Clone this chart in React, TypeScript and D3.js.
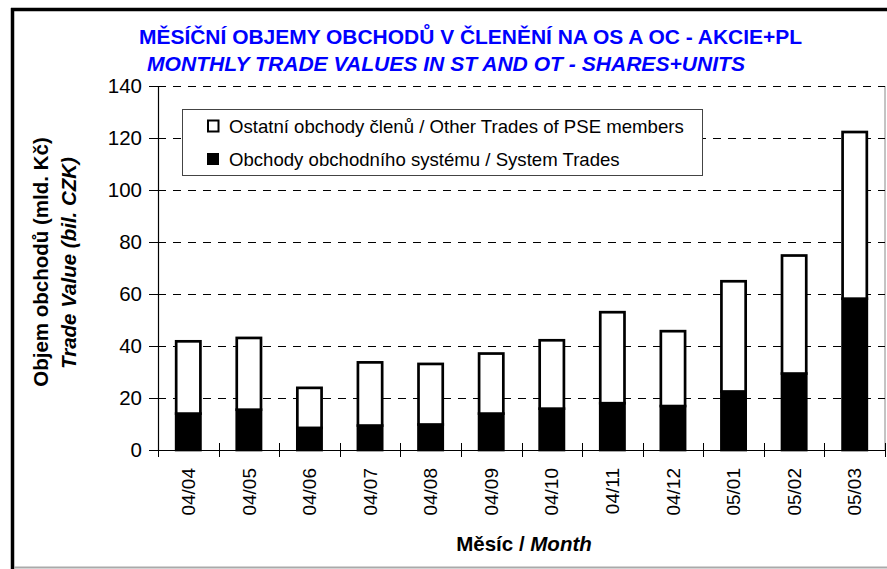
import * as d3 from "d3";

const months = ["04/04", "04/05", "04/06", "04/07", "04/08", "04/09", "04/10", "04/11", "04/12", "05/01", "05/02", "05/03"];
// black part: trades of the trading system
const systemTrades = [14.0, 15.5, 8.5, 9.4, 9.8, 14.0, 15.9, 18.0, 16.9, 22.5, 29.4, 58.2];
// white part: other trades of PSE members
const otherTrades = [27.8, 27.6, 15.4, 24.3, 23.3, 23.1, 26.3, 35.0, 28.8, 42.4, 45.4, 64.1];
const yTicks = [0, 20, 40, 60, 80, 100, 120, 140];

const FONT = "Arial, 'Liberation Sans', sans-serif";

export default function App() {
  const width = 887;
  const height = 569;
  const left = 158;
  const right = 885;
  const top = 86;
  const bottom = 450;

  const x = d3.scaleBand<string>().domain(months).range([left, right]).paddingInner(0.6).paddingOuter(0.3);
  const y = d3.scaleLinear().domain([0, 140]).range([bottom, top]);

  const rows = months.map((m, i) => ({ month: m, system: systemTrades[i], other: otherTrades[i] }));
  const stacked = d3.stack<{ month: string; system: number; other: number }>().keys(["system", "other"])(rows);

  const step = x.step();
  const boundaries = d3.range(months.length + 1).map((i) => left + i * step);

  return (
    <svg width={width} height={height} style={{ position: "absolute", left: 0, top: 0, display: "block", background: "#fff" }} fontFamily={FONT}>
      {/* frame */}
      <line x1={12.5} x2={12.5} y1={8} y2={569} stroke="#000" strokeWidth={3.5} />
      <line x1={11} x2={887} y1={9.5} y2={9.5} stroke="#000" strokeWidth={3.5} />
      <line x1={14} x2={887} y1={567.5} y2={567.5} stroke="#aaa" strokeWidth={2} />

      {/* titles */}
      <text x={139} y={44} fill="#0000ff" fontWeight="bold" fontSize={21} textLength={663} lengthAdjust="spacingAndGlyphs">
        MĚSÍČNÍ OBJEMY OBCHODŮ V ČLENĚNÍ NA OS A OC - AKCIE+PL
      </text>
      <text x={147} y={70.5} fill="#0000ff" fontWeight="bold" fontStyle="italic" fontSize={21} textLength={598} lengthAdjust="spacingAndGlyphs">
        MONTHLY TRADE VALUES IN ST AND OT - SHARES+UNITS
      </text>

      {/* plot border */}
      <line x1={right} x2={right} y1={top} y2={bottom} stroke="#888" strokeWidth={1} />

      {/* gridlines */}
      {yTicks.filter((t) => t > 0).map((t) => (
        <line key={t} x1={left} x2={right} y1={Math.round(y(t)) + 0.5} y2={Math.round(y(t)) + 0.5} stroke="#000" strokeWidth={1} strokeDasharray="8,7" />
      ))}

      {/* bars */}
      {stacked.map((layer) =>
        layer.map((d, i) => (
          <rect
            key={layer.key + i}
            x={x(months[i])}
            y={y(d[1])}
            width={x.bandwidth()}
            height={y(d[0]) - y(d[1])}
            fill={layer.key === "system" ? "#000" : "#fff"}
            stroke="#000"
            strokeWidth={2.7}
          />
        ))
      )}

      {/* axes */}
      <line x1={left + 0.5} x2={left + 0.5} y1={top} y2={bottom} stroke="#000" strokeWidth={1.2} />
      <line x1={left} x2={right} y1={bottom + 0.5} y2={bottom + 0.5} stroke="#000" strokeWidth={1.2} />
      {yTicks.map((t) => (
        <g key={t}>
          <line x1={149} x2={164} y1={Math.round(y(t)) + 0.5} y2={Math.round(y(t)) + 0.5} stroke="#000" strokeWidth={1} />
          <text x={142} y={y(t)} dy="0.36em" textAnchor="end" fontSize={20.5}>{t}</text>
        </g>
      ))}
      {boundaries.map((bx, i) => (
        <line key={i} x1={Math.round(bx) + 0.5} x2={Math.round(bx) + 0.5} y1={443} y2={457} stroke="#000" strokeWidth={1} />
      ))}
      {months.map((m) => (
        <text
          key={m}
          transform={`translate(${x(m)! + x.bandwidth() / 2},468) rotate(-90)`}
          dy="0.35em"
          textAnchor="end"
          fontSize={19}
        >
          {m}
        </text>
      ))}

      {/* axis titles */}
      <text x={524} y={551} textAnchor="middle" fontSize={20.5} fontWeight="bold">
        Měsíc / <tspan fontStyle="italic">Month</tspan>
      </text>
      <text transform="translate(48,262) rotate(-90)" textAnchor="middle" fontSize={20.5} fontWeight="bold">
        Objem obchodů (mld. Kč)
      </text>
      <text transform="translate(76,263) rotate(-90)" textAnchor="middle" fontSize={20.5} fontWeight="bold" fontStyle="italic">
        Trade Value (bil. CZK)
      </text>

      {/* legend */}
      <rect x={182.5} y={109.5} width={520} height={66} fill="#fff" stroke="#444" strokeWidth={1} />
      <rect x={208} y={120.5} width={10.5} height={11} fill="#fff" stroke="#000" strokeWidth={2} />
      <text x={229} y={133} fontSize={18.6}>Ostatní obchody členů / Other Trades of PSE members</text>
      <rect x={207} y={153} width={12} height={12} fill="#000" />
      <text x={229} y={165.5} fontSize={18.6}>Obchody obchodního systému / System Trades</text>
    </svg>
  );
}
